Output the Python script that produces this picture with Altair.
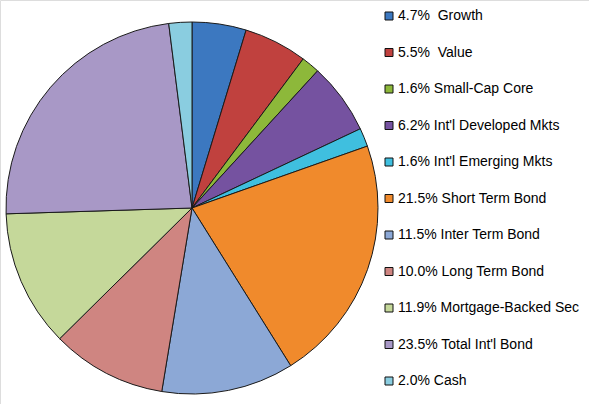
import altair as alt
import pandas as pd

categories = ["Growth", "Value", "Small-Cap Core", "Int'l Developed Mkts",
              "Int'l Emerging Mkts", "Short Term Bond", "Inter Term Bond",
              "Long Term Bond", "Mortgage-Backed Sec", "Total Int'l Bond", "Cash"]
values = [4.7, 5.5, 1.6, 6.2, 1.6, 21.5, 11.5, 10.0, 11.9, 23.5, 2.0]

palette = ["#3c78c0", "#c0413e", "#8db83a", "#7552a0", "#3fbfdf", "#f08a2c",
           "#8ca8d6", "#cf8581", "#c5d89a", "#a898c6", "#8acde0"]

labels = []
for c, v in zip(categories, values):
    sep = "\u00a0 " if c in ("Growth", "Value") else " "
    labels.append(f"{v:.1f}%{sep}{c}")

df = pd.DataFrame({"label": labels, "value": values, "order": list(range(len(values)))})

chart = alt.Chart(df).mark_arc(
    outerRadius=186, stroke="#1a1a1a", strokeWidth=1
).encode(
    theta=alt.Theta("value:Q", stack=True, sort=None),
    order=alt.Order("order:Q"),
    x=alt.value(192),
    y=alt.value(208),
    color=alt.Color(
        "label:N",
        sort=labels,
        scale=alt.Scale(domain=labels, range=palette),
        legend=alt.Legend(
            title=None, orient="none", legendX=382, legendY=9,
            symbolType="square", symbolSize=64, symbolStrokeColor="#111",
            symbolStrokeWidth=1, labelFontSize=14, labelFont="Liberation Sans",
            labelColor="#000", labelOffset=2, rowPadding=22.5, labelLimit=300,
        ),
    ),
).properties(
    width=589, height=404, padding=0, autosize=alt.AutoSizeParams(type="none")
).configure_view(stroke=None).configure(background="white")

chart.save("out.html", embed_options={"renderer": "svg", "actions": False})
